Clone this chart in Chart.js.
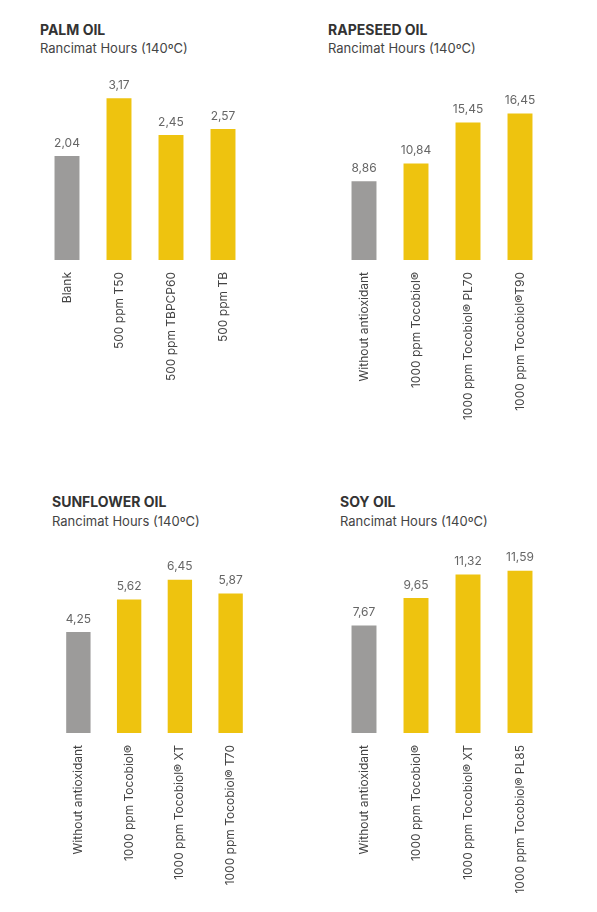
<!DOCTYPE html>
<html>
<head>
<meta charset="utf-8">
<script src="https://cdn.jsdelivr.net/npm/chart.js@4"></script>
<style>
    body { margin: 0; width: 597px; height: 912px; background: #fff; font-family: Inter, Roboto, sans-serif; position: relative; overflow: hidden; }
    canvas { position: absolute; left: 0; top: 0; }
    .title { position: absolute; font-weight: 700; font-size: 14px; color: #333; }
    .sub { position: absolute; font-size: 13px; color: #444; }
</style>
</head>
<body>
<div class="title" style="left:40px;top:21px">PALM OIL</div>
<div class="sub" style="left:40px;top:40px">Rancimat Hours (140ºC)</div>
<div class="title" style="left:328px;top:21px">RAPESEED OIL</div>
<div class="sub" style="left:328px;top:40px">Rancimat Hours (140ºC)</div>
<div class="title" style="left:52px;top:493px">SUNFLOWER OIL</div>
<div class="sub" style="left:52px;top:513px">Rancimat Hours (140ºC)</div>
<div class="title" style="left:340px;top:493px">SOY OIL</div>
<div class="sub" style="left:340px;top:513px">Rancimat Hours (140ºC)</div>

<canvas id="c1" width="597" height="912"></canvas>
<canvas id="c2" width="597" height="912"></canvas>
<canvas id="c3" width="597" height="912"></canvas>
<canvas id="c4" width="597" height="912"></canvas>

<script>
// Data
const palmLabels = ['Blank', '500 ppm T50', '500 ppm TBPCP60', '500 ppm TB'];
const palmValues = [2.04, 3.17, 2.45, 2.57];

const rapeLabels = ['Without antioxidant', '1000 ppm Tocobiol®', '1000 ppm Tocobiol® PL70', '1000 ppm Tocobiol®T90'];
const rapeValues = [8.86, 10.84, 15.45, 16.45];

const sunLabels = ['Without antioxidant', '1000 ppm Tocobiol®', '1000 ppm Tocobiol® XT', '1000 ppm Tocobiol® T70'];
const sunValues = [4.25, 5.62, 6.45, 5.87];

const soyLabels = ['Without antioxidant', '1000 ppm Tocobiol®', '1000 ppm Tocobiol® XT', '1000 ppm Tocobiol® PL85'];
const soyValues = [7.67, 9.65, 11.32, 11.59];

const GRAY = '#9c9b9a';
const YELLOW = '#eec30f';

// draws value labels above bars
const valueLabels = {
    id: 'valueLabels',
    afterDatasetsDraw(chart) {
        const ctx = chart.ctx;
        const meta = chart.getDatasetMeta(0);
        ctx.save();
        ctx.font = '12px Inter, Roboto, sans-serif';
        ctx.fillStyle = '#666';
        ctx.textAlign = 'center';
        ctx.textBaseline = 'bottom';
        meta.data.forEach((bar, i) => {
            const v = chart.data.datasets[0].data[i];
            ctx.fillText(v.toFixed(2).replace('.', ','), bar.x, bar.y - 7);
        });
        ctx.restore();
    }
};

function renderBarChart(id, labels, values, max, box) {
    const ctx = document.getElementById(id).getContext('2d');
    return new Chart(ctx, {
        type: 'bar',
        data: {
            labels: labels,
            datasets: [{
                data: values,
                backgroundColor: values.map((v, i) => i === 0 ? GRAY : YELLOW),
                barPercentage: 0.96,
                categoryPercentage: 0.5
            }]
        },
        options: {
            responsive: false,
            animation: false,
            layout: { padding: { left: box.left, right: 597 - box.right, top: box.top, bottom: 0 } },
            plugins: { legend: { display: false }, tooltip: { enabled: false } },
            scales: {
                y: { display: false, min: 0, max: max },
                x: {
                    grid: { display: false },
                    border: { display: false },
                    afterFit: s => { s.height = 912 - box.bottom; },
                    ticks: {
                        minRotation: 90, maxRotation: 90, padding: 4,
                        color: '#444',
                        font: { family: 'Inter, Roboto, sans-serif', size: 12 }
                    }
                }
            }
        },
        plugins: [valueLabels]
    });
}

window.onload = function() {
    renderBarChart('c1', palmLabels, palmValues, 4, { left: 41, right: 249, top: 56, bottom: 260 });
    renderBarChart('c2', rapeLabels, rapeValues, 20, { left: 338, right: 546, top: 82, bottom: 260 });
    renderBarChart('c3', sunLabels, sunValues, 8, { left: 53, right: 256, top: 543, bottom: 733 });
    renderBarChart('c4', soyLabels, soyValues, 14, { left: 338, right: 546, top: 537, bottom: 733 });
};
</script>
</body>
</html>
